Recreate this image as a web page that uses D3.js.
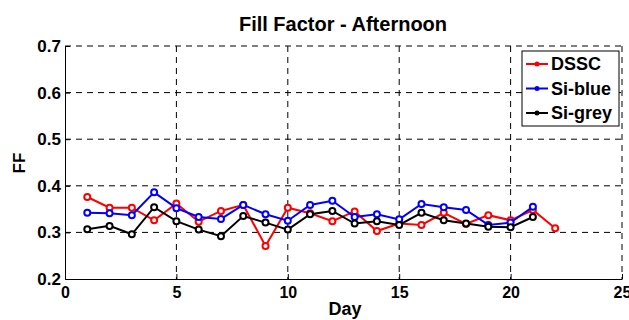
<!DOCTYPE html>
<html>
<head>
<meta charset="utf-8">
<script src="https://cdn.jsdelivr.net/npm/d3@7"></script>
<style>
  body { margin: 0; background: #fff; }
  text { font-family: Arial, "Liberation Sans", sans-serif; font-weight: bold; }
</style>
</head>
<body>
<svg id="viz"></svg>
<script>
var days = d3.range(1, 23);
var dssc   = [0.376, 0.353, 0.353, 0.326, 0.362, 0.323, 0.346, 0.359, 0.271, 0.353, 0.341,
              0.324, 0.345, 0.303, 0.319, 0.316, 0.342, 0.318, 0.337, 0.326, 0.348, 0.309];
var siBlue = [0.342, 0.341, 0.337, 0.386, 0.352, 0.333, 0.329, 0.359, 0.339, 0.325, 0.359,
              0.368, 0.333, 0.339, 0.328, 0.361, 0.354, 0.348, 0.316, 0.321, 0.355];
var siGrey = [0.307, 0.314, 0.296, 0.354, 0.324, 0.306, 0.292, 0.335, 0.321, 0.306, 0.339,
              0.346, 0.319, 0.324, 0.316, 0.342, 0.326, 0.319, 0.312, 0.311, 0.333];
var xTicks = [0, 5, 10, 15, 20, 25];
var yTicks = [0.2, 0.3, 0.4, 0.5, 0.6, 0.7];

var series = [
    {name: "DSSC", color: "#ff0000", values: dssc},
    {name: "Si-blue", color: "#0000ff", values: siBlue},
    {name: "Si-grey", color: "#000000", values: siGrey}
];

function draw(){
    var width = 629, height = 320;
    var margin = {left: 65, right: 7, top: 46, bottom: 41};

    var svg = d3.select("#viz").attr("width", width).attr("height", height);

    var x = d3.scaleLinear().domain([0, 25]).range([margin.left, width - margin.right]);
    var y = d3.scaleLinear().domain([0.2, 0.7]).range([height - margin.bottom, margin.top]);

    // grid
    var grid = svg.append("g").attr("class", "grid");
    grid.selectAll("line.gx")
        .data(xTicks.slice(1))
        .enter().append("line")
        .attr("x1", function(d) { return x(d); })
        .attr("x2", function(d) { return x(d); })
        .attr("y1", y(0.7)).attr("y2", y(0.2))
        .attr("stroke", "#000").attr("stroke-width", 1)
        .attr("stroke-dasharray", "6,5");
    grid.selectAll("line.gy")
        .data(yTicks.slice(1))
        .enter().append("line")
        .attr("y1", function(d) { return y(d); })
        .attr("y2", function(d) { return y(d); })
        .attr("x1", x(0)).attr("x2", x(25))
        .attr("stroke", "#000").attr("stroke-width", 1)
        .attr("stroke-dasharray", "6,5");

    // axes
    var xAxis = d3.axisBottom(x).tickValues(xTicks).tickSizeInner(-5).tickSizeOuter(0)
        .tickFormat(d3.format("d"));
    var yAxis = d3.axisLeft(y).tickValues(yTicks).tickSizeInner(-5).tickSizeOuter(0)
        .tickFormat(d3.format(".1f"));

    var gx = svg.append("g").attr("transform", "translate(0," + y(0.2) + ")").call(xAxis);
    gx.selectAll("text").attr("font-size", 16).attr("dy", 0).attr("y", 19).attr("fill", "#000");
    var gy = svg.append("g").attr("transform", "translate(" + x(0) + ",0)").call(yAxis);
    gy.selectAll("text").attr("font-size", 17).attr("x", -4).attr("fill", "#000");
    svg.selectAll(".domain").attr("stroke", "#000").attr("stroke-width", 1);
    svg.selectAll(".tick line").attr("stroke", "#000");

    // series
    var line = d3.line()
        .x(function(d, i) { return x(i + 1); })
        .y(function(d) { return y(d); });

    series.forEach(function(s) {
        var g = svg.append("g");
        g.append("path")
            .datum(s.values)
            .attr("d", line)
            .attr("fill", "none")
            .attr("stroke", s.color)
            .attr("stroke-width", 2);
        g.selectAll("circle")
            .data(s.values)
            .enter().append("circle")
            .attr("cx", function(d, i) { return x(i + 1); })
            .attr("cy", function(d) { return y(d); })
            .attr("r", 3)
            .attr("fill", "#fff")
            .attr("stroke", s.color)
            .attr("stroke-width", 2);
    });

    // legend
    var lg = svg.append("g").attr("transform", "translate(522,51)");
    lg.append("rect").attr("width", 97).attr("height", 75)
        .attr("fill", "#fff").attr("stroke", "#000").attr("stroke-width", 1);
    series.forEach(function(s, i) {
        var yy = 13 + i * 24.5;
        lg.append("line").attr("x1", 4).attr("x2", 26).attr("y1", yy).attr("y2", yy)
            .attr("stroke", s.color).attr("stroke-width", 2);
        lg.append("circle").attr("cx", 15).attr("cy", yy).attr("r", 2.5).attr("fill", s.color);
        lg.append("text").attr("x", 29).attr("y", yy).attr("dy", "0.36em")
            .attr("font-size", 18).text(s.name);
    });

    // titles
    svg.append("text").attr("x", 343).attr("y", 31).attr("text-anchor", "middle")
        .attr("font-size", 20).text("Fill Factor - Afternoon");
    svg.append("text").attr("x", 345).attr("y", 315).attr("text-anchor", "middle")
        .attr("font-size", 18).text("Day");
    svg.append("text").attr("transform", "translate(25,163) rotate(-90)")
        .attr("text-anchor", "middle").attr("font-size", 17).text("FF");
}

draw();
</script>
</body>
</html>
